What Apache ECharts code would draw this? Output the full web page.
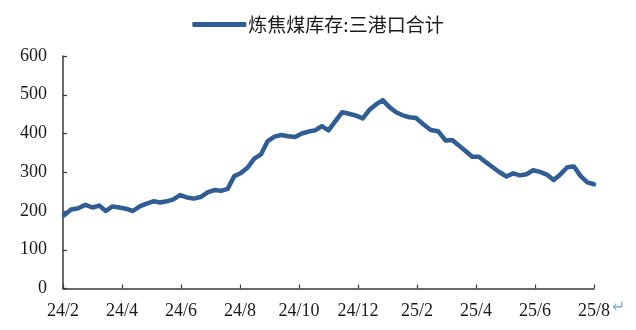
<!DOCTYPE html>
<html><head><meta charset="utf-8">
<script src="https://cdn.jsdelivr.net/npm/echarts@6/dist/echarts.min.js"></script>
<style>html,body{margin:0;padding:0;background:#fff}#c{width:636px;height:330px}</style>
</head><body><div id="c"></div>
<script>
const seriesName = '炼焦煤库存:三港口合计';
const dates = [
 '2024-02-02','2024-02-09','2024-02-16','2024-02-23','2024-03-01','2024-03-08','2024-03-15','2024-03-22','2024-03-29',
 '2024-04-05','2024-04-12','2024-04-19','2024-04-26','2024-05-03','2024-05-10','2024-05-17','2024-05-24','2024-05-31',
 '2024-06-07','2024-06-14','2024-06-21','2024-06-28','2024-07-05','2024-07-12','2024-07-19','2024-07-26',
 '2024-08-02','2024-08-09','2024-08-16','2024-08-23','2024-08-30','2024-09-06','2024-09-13','2024-09-20','2024-09-27',
 '2024-10-04','2024-10-11','2024-10-18','2024-10-25','2024-11-01','2024-11-08','2024-11-15','2024-11-22','2024-11-29',
 '2024-12-06','2024-12-13','2024-12-20','2024-12-27',
 '2025-01-03','2025-01-10','2025-01-17','2025-01-24','2025-01-31','2025-02-07','2025-02-14','2025-02-21','2025-02-28',
 '2025-03-07','2025-03-14','2025-03-21','2025-03-28','2025-04-04','2025-04-11','2025-04-18','2025-04-25',
 '2025-05-02','2025-05-09','2025-05-16','2025-05-23','2025-05-30','2025-06-06','2025-06-13','2025-06-20','2025-06-27',
 '2025-07-04','2025-07-11','2025-07-18','2025-07-25','2025-08-01'
];
const values = [
 189,204,207,216,209,214,200,212,209,
 206,200,212,219,225,222,225,230,241,
 235,232,236,248,254,252,257,290,
 298,312,335,346,380,392,396,393,391,
 400,405,408,419,408,432,455,451,446,
 439,461,475,486,
 468,455,447,442,440,424,409,406,382,
 383,369,355,340,340,326,313,300,
 289,297,292,295,305,301,294,280,295,
 313,315,290,274,269
];
const tickLabels = ['24/2','24/4','24/6','24/8','24/10','24/12','25/2','25/4','25/6','25/8'];

function monthIndex(s){
  const [y,m,d] = s.split('-').map(Number);
  const dim = new Date(y, m, 0).getDate();
  return (y-2024)*12 + (m-2) + (d-1)/dim;
}
const data = dates.map((d,i)=>[monthIndex(d), values[i]]);

const axisColor = '#3a3a3a';
const labelFont = {fontFamily:'Liberation Serif', fontSize:18, color:'#1a1a1a'};
const chart = echarts.init(document.getElementById('c'), null, {renderer:'canvas'});
chart.setOption({
  animation:false,
  backgroundColor:'#fff',
  grid:{left:63, right:42, top:56, bottom:41.5, containLabel:false},
  legend:{
    top:10, left:'center',
    icon:'roundRect', itemWidth:54, itemHeight:5, itemGap:10,
    textStyle:{fontFamily:'Noto Sans CJK SC', fontSize:19, color:'#1a1a1a', padding:[0,0,0,-3]},
    data:[seriesName]
  },
  xAxis:{
    type:'value', min:0, max:18, interval:2,
    axisLine:{show:true, lineStyle:{color:axisColor, width:1.5}},
    axisTick:{show:true, inside:true, length:4, lineStyle:{color:axisColor, width:1.2}},
    splitLine:{show:false},
    axisLabel:Object.assign({margin:14, formatter:v=>tickLabels[Math.round(v/2)]}, labelFont)
  },
  yAxis:{
    type:'value', min:0, max:600, interval:100,
    axisLine:{show:true, lineStyle:{color:axisColor, width:1.5}},
    axisTick:{show:true, inside:true, length:4, lineStyle:{color:axisColor, width:1.2}},
    splitLine:{show:false},
    axisLabel:Object.assign({margin:16}, labelFont)
  },
  series:[{
    name:seriesName, type:'line', data:data, showSymbol:false, symbol:'none',
    lineStyle:{width:4.5, color:'#2f5d94', join:'round', cap:'round'},
    itemStyle:{color:'#2f5d94'}
  }],
  graphic:[{type:'text', left:612, top:300, style:{text:'↵', fill:'#7fb0e0', font:'16px DejaVu Sans'}}]
});
</script>
</body></html>
